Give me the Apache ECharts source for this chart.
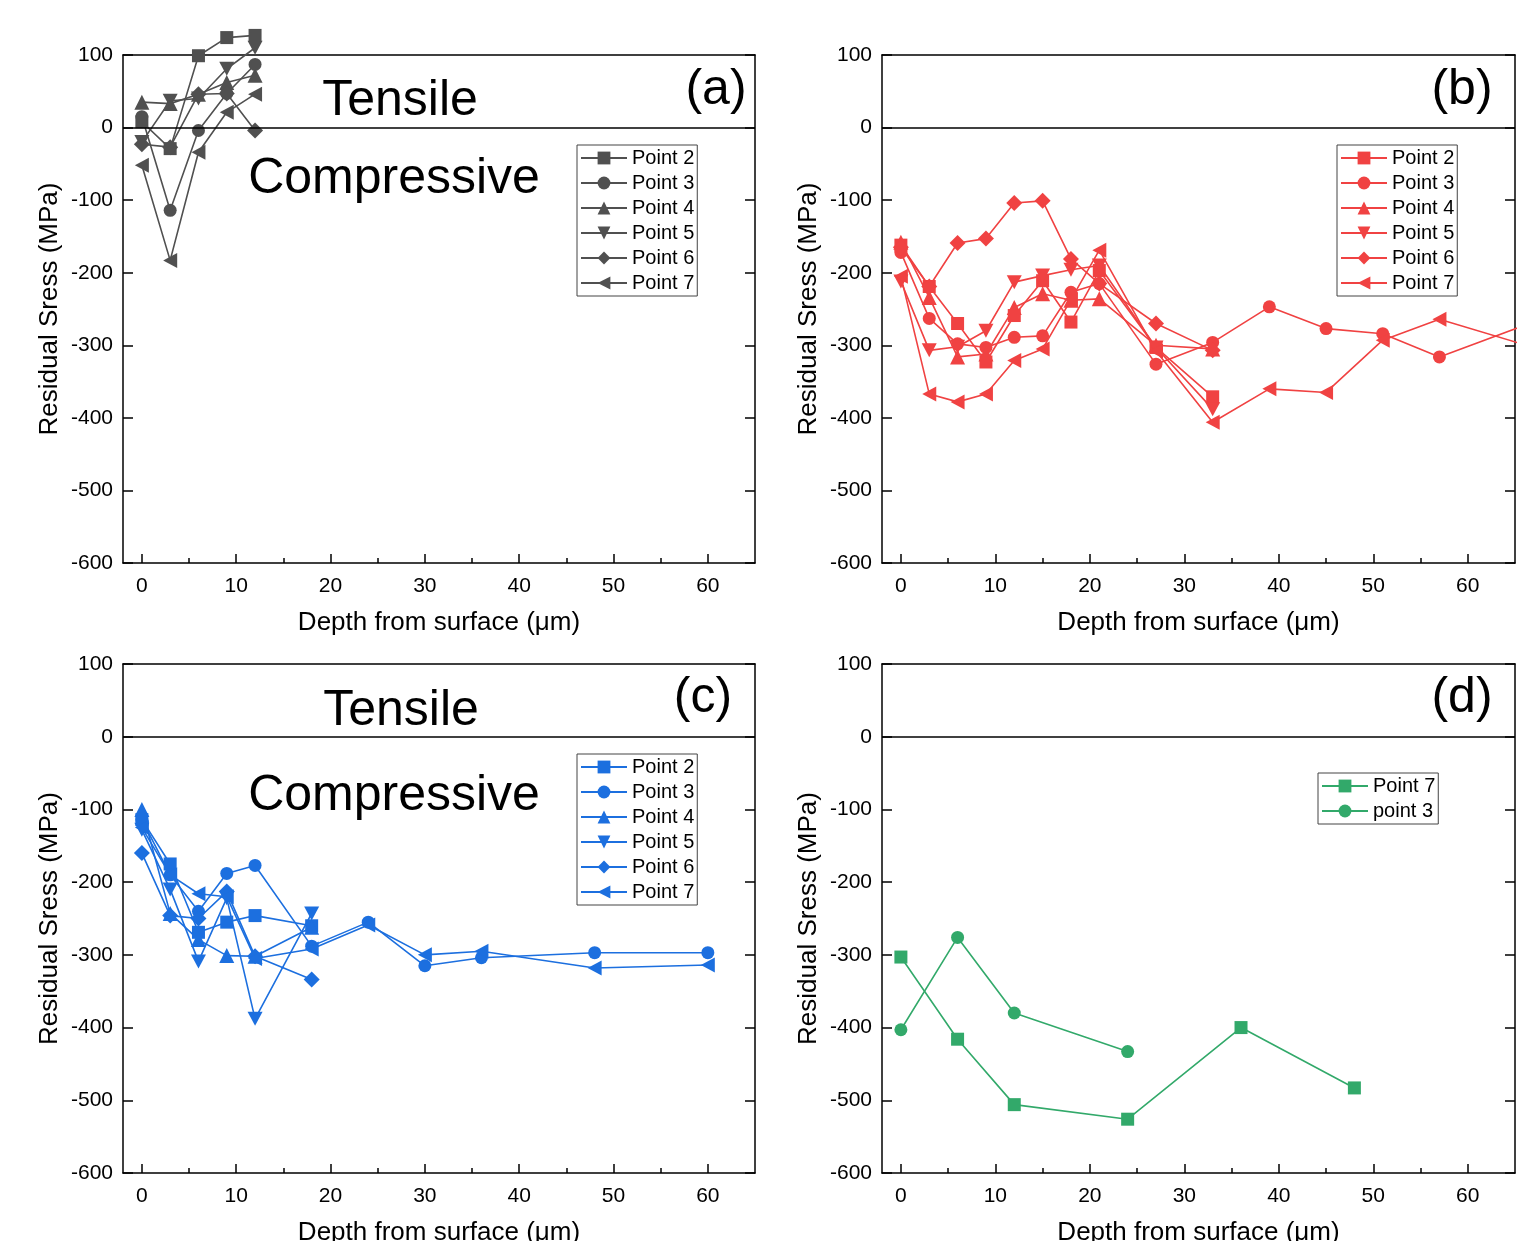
<!DOCTYPE html>
<html>
<head>
<meta charset="utf-8">
<title>Residual stress vs depth</title>
<script src="https://cdn.jsdelivr.net/npm/echarts@6.0.0/dist/echarts.min.js"></script>
<style>
  html, body { margin: 0; padding: 0; background: #fff; }
  #chart { width: 1535px; height: 1241px; }
</style>
</head>
<body>
<div id="chart"></div>
<script>
// ---- data: [depth (µm), residual stress (MPa)] ----
// panel (a)
const aP2 = [[0, 8], [3, -29], [6, 99], [9, 124], [12, 127]];
const aP3 = [[0, 15], [3, -114], [6, -4], [9, 47], [12, 87]];
const aP4 = [[0, 35], [3, 33], [6, 46], [9, 62], [12, 72]];
const aP5 = [[0, -20], [3, 37], [6, 40], [9, 81], [12, 110]];
const aP6 = [[0, -23], [3, -27], [6, 46], [9, 47], [12, -4]];
const aP7 = [[0, -52], [3, -183], [6, -34], [9, 21], [12, 46]];
// panel (b)
const bP2 = [[0, -162], [3, -219], [6, -270], [9, -323], [12, -259], [15, -211], [18, -268], [21, -197], [27, -303], [33, -371]];
const bP3 = [[0, -172], [3, -263], [6, -298], [9, -303], [12, -289], [15, -287], [18, -227], [21, -215], [27, -326], [33, -296], [39, -247], [45, -277], [51, -284], [57, -316], [69, -258]];
const bP4 = [[0, -158], [3, -234], [6, -316], [9, -312], [12, -248], [15, -229], [18, -238], [21, -236], [27, -300], [33, -305]];
const bP5 = [[0, -212], [3, -307], [6, -302], [9, -280], [12, -213], [15, -204], [18, -196], [21, -190], [27, -303], [33, -388]];
const bP6 = [[0, -165], [3, -219], [6, -159], [9, -153], [12, -104], [15, -101], [18, -181], [21, -215], [27, -270], [33, -307]];
const bP7 = [[0, -205], [3, -367], [6, -378], [9, -367], [12, -321], [15, -305], [18, -237], [21, -169], [27, -308], [33, -406], [39, -360], [45, -365], [51, -293], [57, -264], [69, -311]];
// panel (c)
const cP2 = [[0, -114], [3, -175], [6, -269], [9, -255], [12, -246], [18, -260]];
const cP3 = [[0, -114], [3, -190], [6, -240], [9, -188], [12, -177], [18, -288], [24, -255], [30, -315], [36, -304], [48, -297], [60, -297]];
const cP4 = [[0, -100], [3, -243], [6, -279], [9, -301], [12, -302], [18, -262]];
const cP5 = [[0, -128], [3, -210], [6, -309], [9, -222], [12, -388], [18, -243]];
const cP6 = [[0, -160], [3, -246], [6, -250], [9, -213], [12, -302], [18, -334]];
const cP7 = [[0, -125], [3, -190], [6, -216], [9, -220], [12, -305], [18, -292], [24, -259], [30, -300], [36, -295], [48, -318], [60, -314]];
// panel (d)
const dP7 = [[0, -303], [6, -416], [12, -506], [24, -526], [36, -400], [48, -483]];
const dP3 = [[0, -403], [6, -276], [12, -380], [24, -433]];

const xMajor = [0, 10, 20, 30, 40, 50, 60];
const xMinor = [5, 15, 25, 35, 45, 55];

const FONT = "'Liberation Sans', Arial, sans-serif";

// marker shapes
const SYM = {
  sq: { symbol: "rect", symbolSize: 13 },
  ci: { symbol: "circle", symbolSize: 13 },
  up: { symbol: "triangle", symbolSize: 15 },
  dn: { symbol: "path://M0,0L10,0L5,9Z", symbolSize: [15, 14] },
  di: { symbol: "diamond", symbolSize: 16 },
  lt: { symbol: "path://M0,5L9,0L9,10Z", symbolSize: [14, 15] },
};

// panel boxes
const grids = [
  { left: 123, top: 55, width: 632, height: 508 },
  { left: 882, top: 55, width: 633, height: 508 },
  { left: 123, top: 664, width: 632, height: 509 },
  { left: 882, top: 664, width: 633, height: 509 },
];

const panels = [
  {
    key: "a", color: "#505050",
    series: [["Point 2", aP2, "sq"], ["Point 3", aP3, "ci"], ["Point 4", aP4, "up"],
             ["Point 5", aP5, "dn"], ["Point 6", aP6, "di"], ["Point 7", aP7, "lt"]],
    legend: { left: 577, top: 145 },
  },
  {
    key: "b", color: "#f04242",
    series: [["Point 2", bP2, "sq"], ["Point 3", bP3, "ci"], ["Point 4", bP4, "up"],
             ["Point 5", bP5, "dn"], ["Point 6", bP6, "di"], ["Point 7", bP7, "lt"]],
    legend: { left: 1337, top: 145 },
  },
  {
    key: "c", color: "#1c6fdf",
    series: [["Point 2", cP2, "sq"], ["Point 3", cP3, "ci"], ["Point 4", cP4, "up"],
             ["Point 5", cP5, "dn"], ["Point 6", cP6, "di"], ["Point 7", cP7, "lt"]],
    legend: { left: 577, top: 754 },
  },
  {
    key: "d", color: "#32a96a",
    series: [["Point 7", dP7, "sq"], ["point 3", dP3, "ci"]],
    legend: { left: 1318, top: 773 },
  },
];

const xAxis = [];
const yAxis = [];
const series = [];
const legend = [];

panels.forEach((p, i) => {
  // bottom axis with labels and major ticks
  xAxis.push({
    gridIndex: i, type: "value", min: -2, max: 65, position: "bottom",
    name: "Depth from surface (μm)", nameLocation: "middle", nameGap: 47,
    nameTextStyle: { fontSize: 26, color: "#000", fontFamily: FONT },
    axisLine: { show: true, onZero: false, lineStyle: { color: "#000", width: 1.5 } },
    axisTick: { show: true, inside: true, length: 9, customValues: xMajor, lineStyle: { color: "#000", width: 1.5 } },
    axisLabel: { customValues: xMajor, fontSize: 21, color: "#000", margin: 13, fontFamily: FONT },
    splitLine: { show: false },
  });
  // minor ticks
  xAxis.push({
    gridIndex: i, type: "value", min: -2, max: 65, position: "bottom",
    axisLine: { show: false, onZero: false },
    axisTick: { show: true, inside: true, length: 5, customValues: xMinor, lineStyle: { color: "#000", width: 1.5 } },
    axisLabel: { show: false },
    splitLine: { show: false },
  });
  // top frame
  xAxis.push({
    gridIndex: i, type: "value", min: -2, max: 65, position: "top",
    axisLine: { show: true, onZero: false, lineStyle: { color: "#000", width: 1.5 } },
    axisTick: { show: false }, axisLabel: { show: false }, splitLine: { show: false },
  });
  yAxis.push({
    gridIndex: i, type: "value", min: -600, max: 100, interval: 100, position: "left",
    name: "Residual Sress (MPa)", nameLocation: "middle", nameGap: 60,
    nameTextStyle: { fontSize: 26, color: "#000", fontFamily: FONT },
    axisLine: { show: true, onZero: false, lineStyle: { color: "#000", width: 1.5 } },
    axisTick: { show: true, inside: true, length: 10, lineStyle: { color: "#000", width: 1.5 } },
    axisLabel: { fontSize: 21, color: "#000", margin: 10, fontFamily: FONT },
    splitLine: { show: false },
  });
  yAxis.push({
    gridIndex: i, type: "value", min: -600, max: 100, interval: 100, position: "right",
    axisLine: { show: true, onZero: false, lineStyle: { color: "#000", width: 1.5 } },
    axisTick: { show: true, inside: true, length: 10, lineStyle: { color: "#000", width: 1.5 } },
    axisLabel: { show: false }, splitLine: { show: false },
  });

  const names = [];
  p.series.forEach(([name, data, sym], k) => {
    const id = p.key + "|" + name;
    names.push(id);
    const s = {
      name: id, type: "line", data: data,
      xAxisIndex: 3 * i, yAxisIndex: 2 * i,
      symbol: SYM[sym].symbol, symbolSize: SYM[sym].symbolSize, showAllSymbol: true,
      clip: false, animation: false,
      lineStyle: { color: p.color, width: 1.6 },
      itemStyle: { color: p.color },
      z: 3,
    };
    if (k === 0) {
      // zero line (tensile / compressive border)
      s.markLine = {
        silent: true, symbol: "none", animation: false,
        label: { show: false },
        lineStyle: { color: "#000", width: 1.5, type: "solid" },
        data: [{ yAxis: 0 }],
      };
    }
    series.push(s);
  });

  legend.push({
    data: names, orient: "vertical",
    left: p.legend.left, top: p.legend.top,
    itemWidth: 46, itemHeight: 16, itemGap: 5,
    padding: [3, 3, 3, 3],
    borderColor: "#444", borderWidth: 1, backgroundColor: "#fff",
    selectedMode: false,
    formatter: (n) => n.split("|")[1],
    textStyle: { fontSize: 20, color: "#000", fontFamily: FONT, lineHeight: 20, padding: [0, 0, 0, 0] },
  });
});

const bigText = (text, x, y) => ({
  type: "text", x: x, y: y, silent: true,
  style: { text: text, fontSize: 50, fontFamily: FONT, fill: "#000", textAlign: "center", textVerticalAlign: "middle" },
});

const option = {
  animation: false,
  textStyle: { fontFamily: FONT },
  grid: grids.map((g) => Object.assign({ containLabel: false, outerBoundsMode: "none" }, g)),
  xAxis: xAxis,
  yAxis: yAxis,
  legend: legend,
  series: series,
  graphic: [
    bigText("Tensile", 400, 101),
    bigText("Compressive", 394, 179),
    bigText("(a)", 716, 90),
    bigText("(b)", 1462, 90),
    bigText("Tensile", 401, 711),
    bigText("Compressive", 394, 796),
    bigText("(c)", 703, 698),
    bigText("(d)", 1462, 698),
  ],
};

const myChart = echarts.init(document.getElementById("chart"));
myChart.setOption(option, true);
window.addEventListener("resize", () => {
  myChart.resize();
});
</script>
</body>
</html>
